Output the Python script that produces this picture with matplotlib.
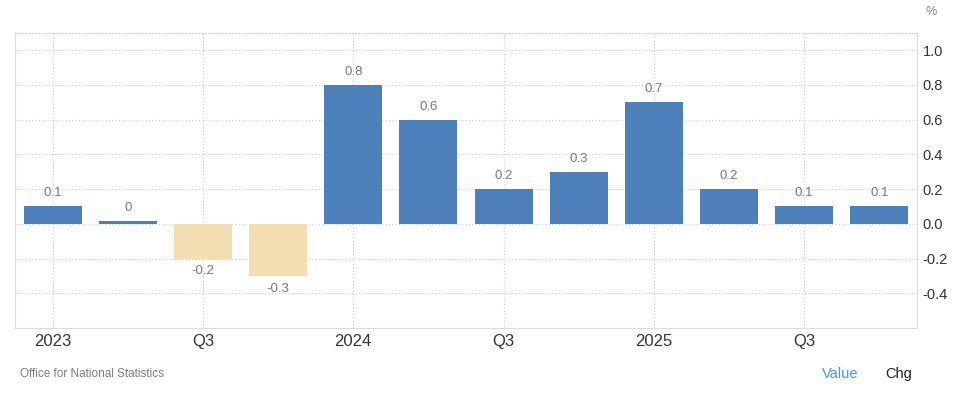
import matplotlib.pyplot as plt

plt.rcParams['font.family'] = ['Liberation Sans', 'DejaVu Sans']

# Quarterly change, 2023 Q1 .. 2025 Q4
quarters = ["2023 Q1", "2023 Q2", "2023 Q3", "2023 Q4",
            "2024 Q1", "2024 Q2", "2024 Q3", "2024 Q4",
            "2025 Q1", "2025 Q2", "2025 Q3", "2025 Q4"]
values = [0.1, 0.015, -0.2, -0.3, 0.8, 0.6, 0.2, 0.3, 0.7, 0.2, 0.1, 0.1]
xtickPos = [0, 2, 4, 6, 8, 10]
xtickLabels = ["2023", "Q3", "2024", "Q3", "2025", "Q3"]
yticks = [-0.4, -0.2, 0.0, 0.2, 0.4, 0.6, 0.8, 1.0]

blue = "#4d7fba"
sand = "#f3ddb3"

fig = plt.figure(figsize=(9.54, 3.95), dpi=100)
ax = fig.add_axes([0.0157, 0.1696, 0.9455, 0.7476])

x = range(len(values))
colors = [blue if v >= 0 else sand for v in values]
ax.bar(x, values, width=0.77, color=colors, zorder=3)

# Value labels above / below bars
for i, v in enumerate(values):
    label = f"{v:.1f}"
    if label in ("0.0", "-0.0"):
        label = "0"
    if v >= 0:
        ax.annotate(label, (i, v), xytext=(0, 5), textcoords="offset points",
                    ha="center", va="bottom", fontsize=9.5, color="#7a7a7a")
    else:
        ax.annotate(label, (i, v), xytext=(0, -5), textcoords="offset points",
                    ha="center", va="top", fontsize=9.5, color="#7a7a7a")

ax.set_xlim(-0.5, 11.5)
ax.set_ylim(-0.6, 1.1)

ax.set_xticks(xtickPos)
ax.set_xticklabels(xtickLabels)
ax.set_yticks(yticks)
ax.set_yticklabels([f"{t:.1f}" for t in yticks])
ax.yaxis.tick_right()
ax.tick_params(axis="x", length=0, labelsize=12, colors="#333333", pad=4)
ax.tick_params(axis="y", length=0, labelsize=10.5, colors="#333333", pad=4)

# Grid and frame
ax.grid(True, linestyle=(0, (1, 2)), color="#d0d0d0", linewidth=0.8, zorder=0)
for side in ["left", "right", "bottom"]:
    ax.spines[side].set_color("#dcdcdc")
ax.spines["top"].set_linestyle((0, (1, 2)))
ax.spines["top"].set_color("#d0d0d0")

# Extra texts
fig.text(0.982, 0.97, "%", ha="right", va="center", fontsize=9, color="#888888")
fig.text(0.021, 0.052, "Office for National Statistics", ha="left", va="center",
         fontsize=8.5, color="#808080")
fig.text(0.862, 0.052, "Value", ha="left", va="center", fontsize=10.5, color="#3d9bf2")
fig.text(0.928, 0.052, "Chg", ha="left", va="center", fontsize=10.5, color="#222222")

plt.savefig("out.png", dpi=100)
plt.close()
